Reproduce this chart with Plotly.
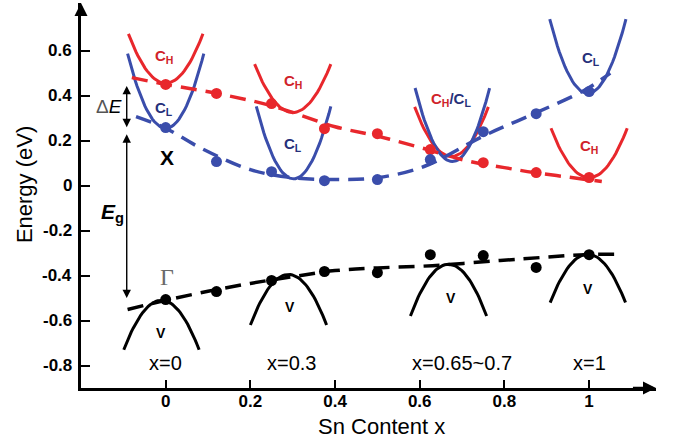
import numpy as np
import plotly.graph_objects as go

# ---- measured data points ----
sn_x = [0.0, 0.12, 0.25, 0.375, 0.5, 0.625, 0.75, 0.875, 1.0]
ch_energy = [0.45, 0.41, 0.365, 0.253, 0.231, 0.16, 0.102, 0.058, 0.036]
cl_energy = [0.258, 0.107, 0.062, 0.022, 0.027, 0.116, 0.24, 0.32, 0.418]
v_energy = [-0.507, -0.471, -0.422, -0.382, -0.387, -0.307, -0.311, -0.364, -0.307]

# ---- dashed guide curves ----
ch_fit_x = [-0.08, 0.0, 0.12, 0.25, 0.4, 0.5, 0.6, 0.71, 0.8, 0.87, 0.95, 1.03]
ch_fit_y = [0.48, 0.45, 0.41, 0.355, 0.262, 0.22, 0.17, 0.111, 0.08, 0.058, 0.038, 0.018]
cl_fit_x = [-0.07, 0.0, 0.08, 0.2, 0.3, 0.4, 0.5, 0.61, 0.75, 0.87, 0.99, 1.05]
cl_fit_y = [0.307, 0.255, 0.17, 0.071, 0.035, 0.027, 0.035, 0.085, 0.22, 0.32, 0.425, 0.5]
v_fit_x = [-0.09, 0.0, 0.1, 0.2, 0.3, 0.4, 0.5, 0.63, 0.79, 0.9, 0.99, 1.08]
v_fit_y = [-0.551, -0.51, -0.47, -0.435, -0.405, -0.378, -0.366, -0.356, -0.333, -0.318, -0.307, -0.305]

# ---- schematic band sketches: center x, extremum energy, end energy, half width ----
ch_band_c = [0.0, 0.3, 0.675, 1.0]
ch_band_min = [0.455, 0.325, 0.13, 0.035]
ch_band_top = [0.675, 0.54, 0.35, 0.255]
ch_band_hw = [0.088, 0.09, 0.087, 0.09]

cl_band_c = [0.0, 0.302, 0.677, 0.997]
cl_band_min = [0.255, 0.03, 0.107, 0.41]
cl_band_top = [0.587, 0.352, 0.434, 0.74]
cl_band_hw = [0.09, 0.088, 0.088, 0.09]

v_band_c = [-0.01, 0.29, 0.668, 0.997]
v_band_max = [-0.51, -0.395, -0.35, -0.305]
v_band_bot = [-0.73, -0.62, -0.58, -0.52]
v_band_hw = [0.089, 0.09, 0.09, 0.089]

# ---- tick labels ----
x_ticks = [0, 0.2, 0.4, 0.6, 0.8, 1]
x_tick_text = ["0", "0.2", "0.4", "0.6", "0.8", "1"]
y_ticks = [-0.8, -0.6, -0.4, -0.2, 0, 0.2, 0.4, 0.6]
y_tick_text = ["-0.8", "-0.6", "-0.4", "-0.2", "0", "0.2", "0.4", "0.6"]

RED = "#e8272c"
BLUE = "#3a4dab"
RED_TXT = "#d0232a"
BLUE_TXT = "#26307a"
FONT = "Liberation Sans, Arial, sans-serif"

fig = go.Figure()


def band(c, e0, e1, hw):
    t = np.linspace(-1, 1, 41)
    return c + hw * t, e0 + (e1 - e0) * t ** 2


for c, e0, e1, hw in zip(ch_band_c, ch_band_min, ch_band_top, ch_band_hw):
    bx, by = band(c, e0, e1, hw)
    fig.add_trace(go.Scatter(x=bx, y=by, mode="lines", line=dict(color=RED, width=3), hoverinfo="skip"))
for c, e0, e1, hw in zip(cl_band_c, cl_band_min, cl_band_top, cl_band_hw):
    bx, by = band(c, e0, e1, hw)
    fig.add_trace(go.Scatter(x=bx, y=by, mode="lines", line=dict(color=BLUE, width=3), hoverinfo="skip"))
for c, e0, e1, hw in zip(v_band_c, v_band_max, v_band_bot, v_band_hw):
    bx, by = band(c, e0, e1, hw)
    fig.add_trace(go.Scatter(x=bx, y=by, mode="lines", line=dict(color="black", width=3), hoverinfo="skip"))

dash = "16px,9px"
fig.add_trace(go.Scatter(x=ch_fit_x, y=ch_fit_y, mode="lines", line=dict(color=RED, width=3.5, dash=dash, shape="spline")))
fig.add_trace(go.Scatter(x=cl_fit_x, y=cl_fit_y, mode="lines", line=dict(color=BLUE, width=3.5, dash=dash, shape="spline")))
fig.add_trace(go.Scatter(x=v_fit_x, y=v_fit_y, mode="lines", line=dict(color="black", width=3.5, dash=dash, shape="spline")))

fig.add_trace(go.Scatter(x=sn_x, y=ch_energy, mode="markers", marker=dict(color=RED, size=11)))
fig.add_trace(go.Scatter(x=sn_x, y=cl_energy, mode="markers", marker=dict(color=BLUE, size=11)))
fig.add_trace(go.Scatter(x=sn_x, y=v_energy, mode="markers", marker=dict(color="black", size=11)))

ann = []


def txt(x, y, s, size=14, color="black", family=FONT, **kw):
    ann.append(dict(x=x, y=y, xref="x", yref="y", text=s, showarrow=False,
                    font=dict(size=size, color=color, family=family), **kw))


CH = "<b>C<sub>H</sub></b>"
CL = "<b>C<sub>L</sub></b>"
txt(-0.005, 0.575, CH, 15, RED_TXT)
txt(-0.005, 0.345, CL, 15, BLUE_TXT)
txt(0.3, 0.465, CH, 15, RED_TXT)
txt(0.3, 0.185, CL, 15, BLUE_TXT)
txt(0.675, 0.385,
    "<b><span style='color:%s'>C<sub>H</sub></span><span style='color:%s'>/C<sub>L</sub></span></b>" % (RED_TXT, BLUE_TXT),
    15)
txt(1.005, 0.565, CL, 15, BLUE_TXT)
txt(1.0, 0.175, CH, 15, RED_TXT)
txt(0.003, 0.125, "<b>X</b>", 21)
txt(0.003, -0.405, "Γ", 24, "#6a6a6a", "Liberation Serif, Times New Roman, serif")
for vx, vy in zip([-0.01, 0.294, 0.673, 0.998], [-0.655, -0.54, -0.5, -0.46]):
    txt(vx, vy, "<b>V</b>", 14)
for lx, s in zip([0.0, 0.297, 0.699, 1.0], ["x=0", "x=0.3", "x=0.65~0.7", "x=1"]):
    txt(lx, -0.787, s, 20)
txt(-0.134, 0.35, "<span style='color:#555'>Δ</span><i>E</i>", 19)
txt(-0.125, -0.12, "<b><i>E</i><sub>g</sub></b>", 21)

# y tick labels placed on the y scale (left of axis line)
for yv, yt in zip(y_ticks, y_tick_text):
    ann.append(dict(x=0, y=yv, xref="paper", yref="y", xanchor="right", yanchor="middle",
                    xshift=-7, text="<b>%s</b>" % yt, showarrow=False,
                    font=dict(size=17, family=FONT, color="black")))

# double arrows (ΔE and Eg)
for y0, y1 in [(0.45, 0.26), (0.235, -0.5)]:
    ann.append(dict(x=-0.092, y=y1, ax=-0.092, ay=y0, xref="x", yref="y", axref="x", ayref="y",
                    showarrow=True, arrowhead=2, startarrowhead=2, arrowside="end+start",
                    arrowsize=1.2, arrowwidth=1.4, arrowcolor="black", text=""))

# axis arrowheads
ann.append(dict(x=1.158, y=-0.9, ax=1.10, ay=-0.9, xref="x", yref="y", axref="x", ayref="y",
                showarrow=True, arrowhead=2, arrowsize=1.0, arrowwidth=2.6, arrowcolor="black", text=""))
ann.append(dict(x=-0.2, y=0.812, ax=-0.2, ay=0.75, xref="x", yref="y", axref="x", ayref="y",
                showarrow=True, arrowhead=2, arrowsize=1.0, arrowwidth=2.6, arrowcolor="black", text=""))

# axis titles
ann.append(dict(x=0, y=0.527, xref="paper", yref="paper", xanchor="center", yanchor="middle",
                xshift=-57, text="Energy (eV)", textangle=-90, showarrow=False,
                font=dict(size=22, family=FONT, color="black")))
ann.append(dict(x=0.522, y=0, xref="paper", yref="paper", xanchor="center", yanchor="middle",
                yshift=-38, text="Sn Content x", showarrow=False,
                font=dict(size=22, family=FONT, color="black")))

fig.update_layout(
    width=673, height=442,
    margin=dict(l=81, r=17, t=3, b=54, autoexpand=False),
    plot_bgcolor="white", paper_bgcolor="white",
    showlegend=False,
    annotations=ann,
    font=dict(family=FONT),
    xaxis=dict(range=[-0.2, 1.158], showgrid=False, zeroline=False, showline=True, automargin=False,
               linecolor="black", linewidth=2.6, ticks="inside", ticklen=8, tickwidth=2.2,
               tickcolor="black", tickvals=x_ticks, ticktext=x_tick_text, ticklabelstandoff=-4,
               tickfont=dict(size=17, family=FONT, color="black", weight="bold")),
    yaxis=dict(range=[-0.9, 0.812], showgrid=False, zeroline=False, showline=True, automargin=False,
               linecolor="black", linewidth=2.6, ticks="inside", ticklen=9, tickwidth=2.2,
               tickcolor="black", tickvals=y_ticks, showticklabels=False),
)

fig.write_html("out.html", config={"displayModeBar": False},
               post_script="document.body.style.margin='0px';document.body.style.overflow='hidden';")
